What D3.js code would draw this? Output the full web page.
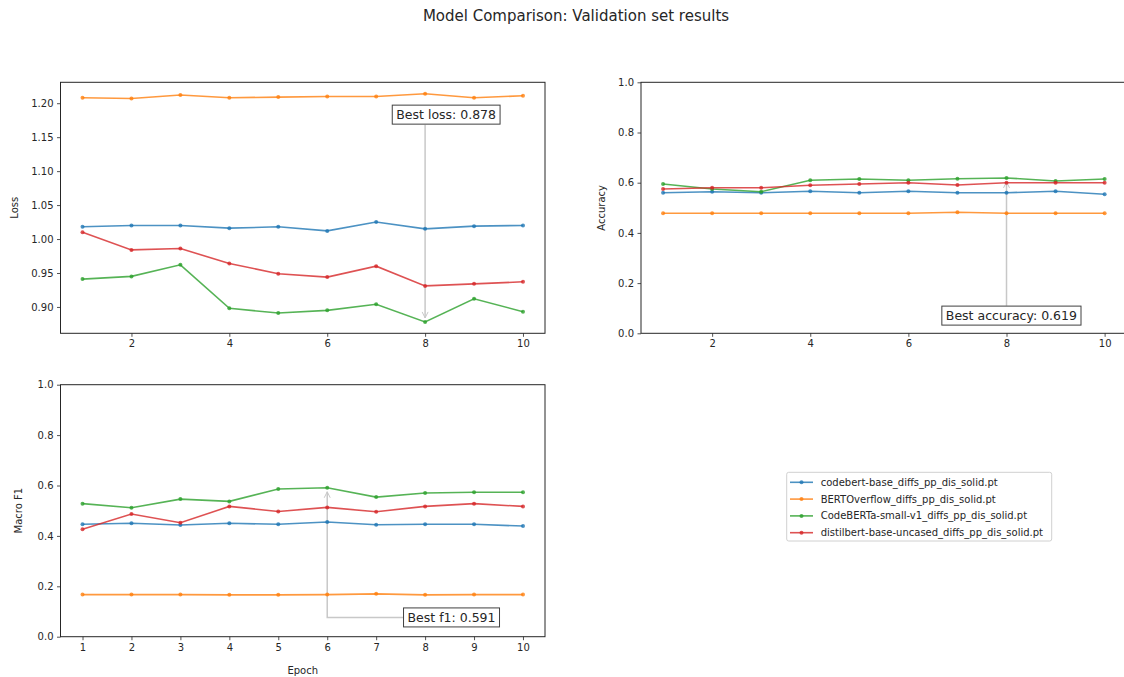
<!DOCTYPE html>
<html>
<head>
<meta charset="utf-8">
<script src="https://cdn.jsdelivr.net/npm/d3@7"></script>
<style>
  body { margin: 0; background: #fff; }
  svg { display: block; font-family: "DejaVu Sans", sans-serif; }
</style>
</head>
<body>
<div id="chart"></div>
<script>
const width = 1124;
const height = 677;

// Data
const epochs = [1, 2, 3, 4, 5, 6, 7, 8, 9, 10];
const models = [
    "codebert-base_diffs_pp_dis_solid.pt",
    "BERTOverflow_diffs_pp_dis_solid.pt",
    "CodeBERTa-small-v1_diffs_pp_dis_solid.pt",
    "distilbert-base-uncased_diffs_pp_dis_solid.pt",
];
const colours = ["#1f77b4", "#ff7f0e", "#2ca02c", "#d62728"];

const lossCodebert   = [1.018, 1.020, 1.020, 1.016, 1.018, 1.012, 1.025, 1.015, 1.019, 1.020];
const lossOverflow   = [1.208, 1.207, 1.212, 1.208, 1.209, 1.210, 1.210, 1.214, 1.208, 1.211];
const lossCodeberta  = [0.941, 0.945, 0.962, 0.898, 0.891, 0.895, 0.904, 0.878, 0.912, 0.893];
const lossDistilbert = [1.010, 0.984, 0.986, 0.964, 0.949, 0.944, 0.960, 0.931, 0.934, 0.937];

const accCodebert   = [0.560, 0.564, 0.560, 0.566, 0.560, 0.566, 0.560, 0.560, 0.566, 0.554];
const accOverflow   = [0.478, 0.478, 0.478, 0.478, 0.478, 0.478, 0.482, 0.478, 0.478, 0.478];
const accCodeberta  = [0.595, 0.575, 0.564, 0.610, 0.615, 0.610, 0.616, 0.619, 0.607, 0.615];
const accDistilbert = [0.575, 0.580, 0.580, 0.590, 0.595, 0.600, 0.591, 0.600, 0.600, 0.600];

const f1Codebert   = [0.446, 0.450, 0.443, 0.450, 0.446, 0.455, 0.444, 0.446, 0.446, 0.439];
const f1Overflow   = [0.167, 0.167, 0.167, 0.166, 0.166, 0.167, 0.170, 0.166, 0.167, 0.167];
const f1Codeberta  = [0.528, 0.512, 0.546, 0.537, 0.586, 0.591, 0.554, 0.570, 0.573, 0.573];
const f1Distilbert = [0.426, 0.487, 0.452, 0.517, 0.497, 0.513, 0.496, 0.517, 0.528, 0.517];

const lossSeries = [lossCodebert, lossOverflow, lossCodeberta, lossDistilbert];
const accSeries  = [accCodebert, accOverflow, accCodeberta, accDistilbert];
const f1Series   = [f1Codebert, f1Overflow, f1Codeberta, f1Distilbert];

const textColour = "#262626";

const svg = d3.create("svg")
    .attr("width", width)
    .attr("height", height);

const defs = svg.append("defs");
defs.append("marker")
    .attr("id", "arrowhead")
    .attr("viewBox", "0 0 8 8")
    .attr("refX", 7).attr("refY", 4)
    .attr("markerWidth", 8).attr("markerHeight", 8)
    .attr("markerUnits", "userSpaceOnUse")
    .attr("orient", "auto")
    .append("path")
    .attr("d", "M1,1 L7,4 L1,7")
    .attr("fill", "none")
    .attr("stroke", "#c8c8c8")
    .attr("stroke-width", 1);

// Title
svg.append("text")
    .attr("x", 576)
    .attr("y", 21)
    .attr("text-anchor", "middle")
    .attr("font-size", "15px")
    .attr("fill", textColour)
    .text("Model Comparison: Validation set results");

// padded extent like matplotlib autoscale
function padded(series) {
    const lo = d3.min(series, s => d3.min(s));
    const hi = d3.max(series, s => d3.max(s));
    const pad = (hi - lo) * 0.05;
    return [lo - pad, hi + pad];
}

const panels = [
    { series: lossSeries, left: 60.5, top: 82.3, w: 484.5, h: 251,
      yDomain: padded(lossSeries), yTicks: [0.90, 0.95, 1.00, 1.05, 1.10, 1.15, 1.20], yFmt: ".2f",
      xTicks: [2, 4, 6, 8, 10], yLabel: "Loss", yLabelX: 14, best: "min", bestName: "loss" },
    { series: accSeries, left: 641, top: 82.3, w: 485.7, h: 251,
      yDomain: [0, 1], yTicks: [0, 0.2, 0.4, 0.6, 0.8, 1.0], yFmt: ".1f",
      xTicks: [2, 4, 6, 8, 10], yLabel: "Accuracy", yLabelX: 601.5, best: "max", bestName: "accuracy" },
    { series: f1Series, left: 60.5, top: 384.7, w: 484.5, h: 252,
      yDomain: [0, 1], yTicks: [0, 0.2, 0.4, 0.6, 0.8, 1.0], yFmt: ".1f",
      xTicks: epochs, yLabel: "Macro F1", yLabelX: 18.5, xLabel: "Epoch", best: "max", bestName: "f1" },
];

panels.forEach((p, pi) => {
    const x = d3.scaleLinear()
        .domain([1 - 0.45, 10 + 0.45])
        .range([p.left, p.left + p.w]);
    const y = d3.scaleLinear()
        .domain(p.yDomain)
        .range([p.top + p.h, p.top]);

    const g = svg.append("g");

    // best value lookup
    let bestVal = p.best === "min" ? Infinity : -Infinity, bestEpoch = 1;
    p.series.forEach(s => s.forEach((v, i) => {
        if ((p.best === "min" && v < bestVal) || (p.best === "max" && v > bestVal)) {
            bestVal = v; bestEpoch = epochs[i];
        }
    }));

    // axes
    const yAxis = d3.axisLeft(y)
        .tickValues(p.yTicks)
        .tickFormat(d3.format(p.yFmt))
        .tickSize(3.5)
        .tickPadding(3.5);
    const xAxis = d3.axisBottom(x)
        .tickValues(p.xTicks)
        .tickFormat(d3.format("d"))
        .tickSize(3.5)
        .tickPadding(3.5);

    const ya = g.append("g")
        .attr("transform", `translate(${p.left},0)`)
        .call(yAxis);
    const xa = g.append("g")
        .attr("transform", `translate(0,${p.top + p.h})`)
        .call(xAxis);
    [ya, xa].forEach(a => {
        a.select(".domain").remove();
        a.selectAll("line").attr("stroke", textColour).attr("stroke-width", 0.8);
        a.selectAll("text")
            .attr("fill", textColour)
            .attr("font-size", "10px")
            .attr("font-family", "DejaVu Sans, sans-serif");
    });

    // frame
    g.append("rect")
        .attr("x", p.left).attr("y", p.top)
        .attr("width", p.w).attr("height", p.h)
        .attr("fill", "none")
        .attr("stroke", textColour)
        .attr("stroke-width", 1);

    // labels
    g.append("text")
        .attr("transform", `translate(${p.yLabelX},${p.top + p.h / 2}) rotate(-90)`)
        .attr("text-anchor", "middle")
        .attr("dy", "0.35em")
        .attr("font-size", "10px")
        .attr("fill", textColour)
        .text(p.yLabel);
    if (p.xLabel) {
        g.append("text")
            .attr("x", p.left + p.w / 2)
            .attr("y", p.top + p.h + 37)
            .attr("text-anchor", "middle")
            .attr("font-size", "10px")
            .attr("fill", textColour)
            .text(p.xLabel);
    }

    // annotation arrow (drawn beneath the lines)
    const ann = g.append("g");
    const px = x(bestEpoch);
    const py = y(bestVal);
    const label = `Best ${p.bestName}: ${d3.format(".3f")(bestVal)}`;
    let boxCx, boxCy;
    if (pi === 0) {
        boxCx = x(8.43); boxCy = y(1.183);
        ann.append("line")
            .attr("x1", px).attr("y1", boxCy + 10)
            .attr("x2", px).attr("y2", py - 4)
            .attr("stroke", "#c8c8c8").attr("stroke-width", 1.5)
            .attr("marker-end", "url(#arrowhead)");
    } else if (pi === 1) {
        boxCx = x(8.1); boxCy = y(0.07);
        ann.append("line")
            .attr("x1", px).attr("y1", boxCy - 10)
            .attr("x2", px).attr("y2", py + 4)
            .attr("stroke", "#c8c8c8").attr("stroke-width", 1.5)
            .attr("marker-end", "url(#arrowhead)");
    } else {
        boxCx = x(8.54); boxCy = y(0.076);
        ann.append("path")
            .attr("d", `M${boxCx - 48},${boxCy} H${px} V${py + 4}`)
            .attr("fill", "none")
            .attr("stroke", "#c8c8c8").attr("stroke-width", 1.5)
            .attr("marker-end", "url(#arrowhead)");
    }

    // series
    const line = d3.line()
        .x((d, i) => x(epochs[i]))
        .y(d => y(d));
    p.series.forEach((s, si) => {
        g.append("path")
            .datum(s)
            .attr("d", line)
            .attr("fill", "none")
            .attr("stroke", colours[si])
            .attr("stroke-width", 1.6)
            .attr("opacity", 0.8);
        g.append("g")
            .selectAll("circle")
            .data(s)
            .join("circle")
            .attr("cx", (d, i) => x(epochs[i]))
            .attr("cy", d => y(d))
            .attr("r", 2)
            .attr("fill", colours[si])
            .attr("opacity", 0.8);
    });

    // annotation box
    const t = g.append("text")
        .attr("x", boxCx)
        .attr("y", boxCy)
        .attr("dy", "0.35em")
        .attr("text-anchor", "middle")
        .attr("font-size", "12.5px")
        .attr("fill", textColour)
        .text(label);
    g.insert("rect", () => t.node())
        .attr("class", "annbox")
        .datum({ text: t });
});

// Legend
const legend = svg.append("g");
legend.append("rect")
    .attr("x", 786.7).attr("y", 472.3)
    .attr("width", 265).attr("height", 68.7)
    .attr("rx", 2)
    .attr("fill", "#fff")
    .attr("stroke", "#d0d0d0")
    .attr("stroke-width", 1);
const rowY = d3.scalePoint().domain(models).range([482.3, 532.7]);
models.forEach((m, i) => {
    const yy = rowY(m);
    legend.append("line")
        .attr("x1", 790).attr("x2", 813)
        .attr("y1", yy).attr("y2", yy)
        .attr("stroke", colours[i]).attr("stroke-width", 1.6).attr("opacity", 0.8);
    legend.append("circle")
        .attr("cx", 801.5).attr("cy", yy).attr("r", 2)
        .attr("fill", colours[i]).attr("opacity", 0.8);
    legend.append("text")
        .attr("x", 820.7).attr("y", yy)
        .attr("dy", "0.35em")
        .attr("font-size", "10px")
        .attr("fill", textColour)
        .text(m);
});

document.querySelector("#chart").append(svg.node());

// size annotation boxes after the svg is in the document
svg.selectAll("rect.annbox").each(function(d) {
    const b = d.text.node().getBBox();
    d3.select(this)
        .attr("x", b.x - 4).attr("y", b.y - 2)
        .attr("width", b.width + 8).attr("height", b.height + 4)
        .attr("fill", "#fff")
        .attr("stroke", "#404040")
        .attr("stroke-width", 1);
});
</script>
</body>
</html>
